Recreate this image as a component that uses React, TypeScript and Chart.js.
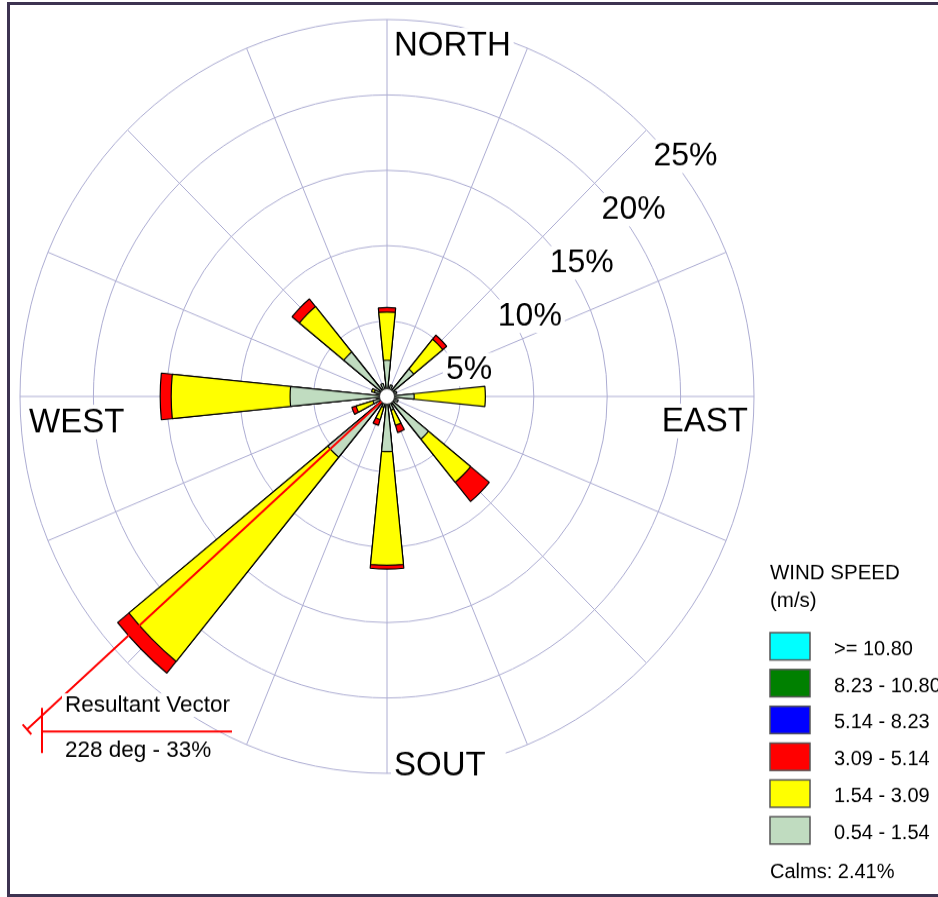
import { useEffect, useRef } from 'react';
import { Chart, registerables } from 'chart.js';

Chart.register(...registerables);

// Sixteen compass sectors, clockwise from north
const DIRECTIONS = ['N', 'NNE', 'NE', 'ENE', 'E', 'ESE', 'SE', 'SSE', 'S', 'SSW', 'SW', 'WSW', 'W', 'WNW', 'NW', 'NNW'];

// Frequency (%) of each wind-speed class per sector
const SPEED_054_154 = [2.4, 0.8, 2.35, 0.7, 1.85, 0.8, 3.65, 0.95, 3.65, 0.75, 5.2, 1.0, 6.6, 0.9, 3.8, 0.9];
const SPEED_154_309 = [3.2, 0, 2.55, 0, 4.85, 0, 3.7, 1.05, 7.55, 0.85, 17.5, 1.2, 8.1, 0.2, 3.9, 0];
const SPEED_309_514 = [0.3, 0, 0.35, 0, 0, 0, 1.65, 0.5, 0.25, 0.4, 1.0, 0.3, 0.75, 0, 0.65, 0];
const SPEED_514_823 = [0, 0, 0, 0, 0, 0, 0, 0, 0, 0, 0, 0, 0, 0, 0, 0];
const SPEED_823_1080 = [0, 0, 0, 0, 0, 0, 0, 0, 0, 0, 0, 0, 0, 0, 0, 0];
const SPEED_1080_UP = [0, 0, 0, 0, 0, 0, 0, 0, 0, 0, 0, 0, 0, 0, 0, 0];

const SPEED_LABELS = ['0.54 - 1.54', '1.54 - 3.09', '3.09 - 5.14', '5.14 - 8.23', '8.23 - 10.80', '>= 10.80'];
const SPEED_COLORS = ['#C0DCC0', '#FFFF00', '#FF0000', '#0000FF', '#008000', '#00FFFF'];

const RING_TICKS = [5, 10, 15, 20, 25];
const COMPASS_LABELS = ['NORTH', 'EAST', 'SOUT', 'WEST'];

const CALMS = 2.41;
const RESULTANT_DIR = 228;
const RESULTANT_PCT = 33;

const FONT = '"Liberation Sans", Arial, Helvetica, sans-serif';
const GRID = '#acacd2';
const PETAL_SPAN = 11.5;
const GAP_SPAN = 22.5 - PETAL_SPAN;
const STRETCH = 1.027;

const SERIES = [SPEED_054_154, SPEED_154_309, SPEED_309_514, SPEED_514_823, SPEED_823_1080, SPEED_1080_UP];

function buildDatasets() {
  const out: any[] = [];
  let running = DIRECTIONS.map(() => 0);
  SERIES.forEach((s, k) => {
    running = running.map((v, i) => v + s[i]);
    if (!s.some((v) => v > 0)) return;
    const cum = running.map((v, i) => (s[i] > 0 ? v : 0));
    const data: number[] = [];
    cum.forEach((v) => data.push(v, 0));
    out.push({
      label: SPEED_LABELS[k],
      data,
      backgroundColor: SPEED_COLORS[k],
      borderColor: '#000',
      borderWidth: (c: any) => (c.dataIndex % 2 === 0 && c.raw > 0 ? 1.2 : 0),
      angle: (c: any) => (c.dataIndex % 2 === 0 ? PETAL_SPAN : GAP_SPAN),
    });
  });
  return out;
}

function textWithBox(ctx: CanvasRenderingContext2D, text: string, x: number, y: number, size: number, align: CanvasTextAlign = 'left', padR = 0) {
  ctx.font = `${size}px ${FONT}`;
  ctx.textAlign = align;
  ctx.textBaseline = 'alphabetic';
  const w = ctx.measureText(text).width;
  const left = align === 'right' ? x - w : x;
  ctx.fillStyle = '#fff';
  ctx.fillRect(left - 3, y - size * 0.8, w + 6 + padR, size * 1.02);
  ctx.fillStyle = '#000';
  ctx.fillText(text, x, y);
}

const roseDecor = {
  id: 'roseDecor',
  beforeDatasetsDraw(chart: any) {
    const s = chart.scales.r;
    const ctx: CanvasRenderingContext2D = chart.ctx;
    const cx = s.xCenter;
    const cy = s.yCenter;
    const R = s.drawingArea;
    ctx.save();
    // radial spokes
    ctx.strokeStyle = GRID;
    ctx.lineWidth = 1;
    ctx.beginPath();
    DIRECTIONS.forEach((_, i) => {
      const a = (i * 22.5 * Math.PI) / 180;
      ctx.moveTo(cx, cy);
      ctx.lineTo(cx + R * Math.sin(a), cy - R * Math.cos(a));
    });
    ctx.stroke();
    // ring percentages along the north-east diagonal
    RING_TICKS.forEach((v) => {
      const r = s.getDistanceFromCenterForValue(v);
      const px = cx + r * Math.SQRT1_2;
      const py = cy - r * Math.SQRT1_2;
      textWithBox(ctx, `${v}%`, px + 7, py + 35, 32);
    });
    // compass names
    textWithBox(ctx, COMPASS_LABELS[0], cx + 7, cy - R + 34.5, 33);
    textWithBox(ctx, COMPASS_LABELS[1], cx + R - 6, cy + 33.5, 33, 'right');
    textWithBox(ctx, COMPASS_LABELS[2], cx + 7, cy + R + 2, 33, 'left', 17);
    textWithBox(ctx, COMPASS_LABELS[3], cx - R + 9, cy + 34.5, 33);
    ctx.restore();
  },
  afterDatasetsDraw(chart: any) {
    const s = chart.scales.r;
    const ctx: CanvasRenderingContext2D = chart.ctx;
    const cx = s.xCenter;
    const cy = s.yCenter;
    const th = (RESULTANT_DIR * Math.PI) / 180;
    const rv = s.getDistanceFromCenterForValue(RESULTANT_PCT);
    const ex = cx + rv * Math.sin(th);
    const ey = cy - rv * Math.cos(th);
    ctx.save();
    ctx.strokeStyle = '#FF0000';
    ctx.lineWidth = 2;
    ctx.beginPath();
    ctx.moveTo(cx, cy);
    ctx.lineTo(ex, ey);
    // end cap
    ctx.moveTo(ex - 6.5 * Math.cos(th), ey - 6.5 * Math.sin(th));
    ctx.lineTo(ex + 6.5 * Math.cos(th), ey + 6.5 * Math.sin(th));
    // label bracket
    ctx.moveTo(ex + 15, ey - 21);
    ctx.lineTo(ex + 15, ey + 23);
    ctx.moveTo(ex + 15, ey + 2);
    ctx.lineTo(ex + 205, ey + 2);
    ctx.stroke();
    textWithBox(ctx, 'Resultant Vector', ex + 38, ey - 17, 22.5);
    textWithBox(ctx, `${RESULTANT_DIR} deg - ${RESULTANT_PCT}%`, ex + 38, ey + 27, 22.5);
    // calm circle
    ctx.beginPath();
    ctx.arc(cx, cy, 7.5, 0, Math.PI * 2);
    ctx.fillStyle = '#fff';
    ctx.fill();
    ctx.strokeStyle = '#333';
    ctx.lineWidth = 1;
    ctx.stroke();
    ctx.restore();
  },
  afterDraw(chart: any) {
    const ctx: CanvasRenderingContext2D = chart.ctx;
    ctx.save();
    ctx.fillStyle = '#000';
    ctx.textAlign = 'left';
    ctx.textBaseline = 'alphabetic';
    ctx.font = `20.5px ${FONT}`;
    ctx.fillText('WIND SPEED', 770, 564);
    ctx.fillText('(m/s)', 770, 591);
    const order = SPEED_LABELS.map((_, i) => SPEED_LABELS.length - 1 - i);
    order.forEach((k, row) => {
      const top = 616 + row * 35.85;
      ctx.fillStyle = SPEED_COLORS[k];
      ctx.fillRect(770, top, 40, 26.6);
      ctx.strokeStyle = '#555';
      ctx.lineWidth = 1.5;
      ctx.strokeRect(770, top, 40, 26.6);
      ctx.fillStyle = '#000';
      ctx.font = `20px ${FONT}`;
      ctx.fillText(SPEED_LABELS[k], 834, top + 21.7);
    });
    ctx.font = `20px ${FONT}`;
    ctx.fillText(`Calms: ${CALMS.toFixed(2)}%`, 770, 854.6);
    ctx.restore();
  },
};

export default function App() {
  const ref = useRef<HTMLCanvasElement | null>(null);

  useEffect(() => {
    if (!ref.current) return;
    const chart = new Chart(ref.current, {
      type: 'polarArea',
      data: {
        labels: DIRECTIONS.flatMap((d) => [d, '']),
        datasets: buildDatasets(),
      },
      options: {
        responsive: false,
        animation: false,
        events: [],
        layout: { padding: { left: 20, right: 184, top: 19, bottom: 121 } },
        plugins: { legend: { display: false }, tooltip: { enabled: false } },
        scales: {
          r: {
            min: 0,
            max: 25,
            startAngle: -PETAL_SPAN / 2,
            ticks: { display: false, stepSize: 5 },
            grid: { color: GRID, lineWidth: 1, circular: true },
            angleLines: { display: false },
            pointLabels: { display: false },
          },
        },
      } as any,
      plugins: [roseDecor],
    });
    return () => chart.destroy();
  }, []);

  return (
    <div style={{ position: 'absolute', left: 0, top: 0, width: 938, height: 897, overflow: 'hidden', background: '#fff' }}>
      <div
        style={{
          position: 'absolute',
          left: 7,
          top: 2,
          width: 1000,
          height: 895,
          border: '3px solid #3d3351',
          boxSizing: 'border-box',
        }}
      />
      <canvas
        ref={ref}
        width={938}
        height={874}
        style={{
          position: 'absolute',
          left: 0,
          top: 0,
          width: '938px',
          height: '874px',
          transform: `scaleY(${STRETCH})`,
          transformOrigin: '0 0',
        }}
      />
    </div>
  );
}
